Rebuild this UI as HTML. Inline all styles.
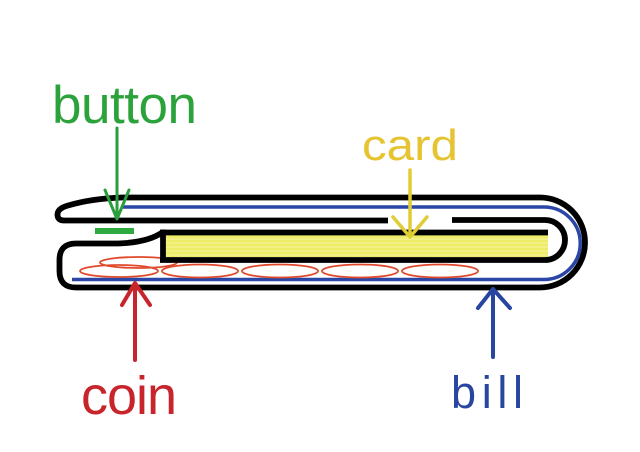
<!DOCTYPE html>
<html>
<head>
<meta charset="utf-8">
<style>
html,body{margin:0;padding:0;background:#fff;}
svg{display:block;}
text{font-family:"Liberation Sans",sans-serif;}
</style>
</head>
<body>
<svg width="640" height="452" viewBox="0 0 640 452" xmlns="http://www.w3.org/2000/svg">
  <defs>
    <pattern id="stripes" x="0" y="236" width="10" height="4" patternUnits="userSpaceOnUse">
      <rect width="10" height="4" fill="#eeec66"/>
      <rect y="2.5" width="10" height="1" fill="#f5f4a0"/>
    </pattern>
  </defs>
  <rect width="640" height="452" fill="#fff"/>

  <!-- card yellow -->
  <rect x="166" y="235" width="382" height="22" fill="url(#stripes)"/>

  <!-- blue bill line -->
  <path d="M123,207 H544 A36,36 0 0 1 544,279.5 H72" fill="none" stroke="#2a46a6" stroke-width="3.5"/>

  <!-- coins -->
  <g fill="none" stroke="#e04a2c" stroke-width="1.8">
    <ellipse cx="138.5" cy="262.5" rx="38.5" ry="5.5"/>
    <ellipse cx="119" cy="271" rx="39" ry="6"/>
    <ellipse cx="200" cy="271" rx="38" ry="6.5"/>
    <ellipse cx="280" cy="271" rx="38" ry="6.5"/>
    <ellipse cx="360" cy="271" rx="38" ry="6.5"/>
    <ellipse cx="440" cy="271" rx="38" ry="6.5"/>
  </g>

  <!-- black wallet outline -->
  <g fill="none" stroke="#000" stroke-width="5.8" stroke-linejoin="round">
    <path d="M388,220.5 H64 Q57.5,220.5 57.5,214.5 Q57.5,208.5 68,205.5 Q92,198.5 122,197.5 H540 A45,45 0 0 1 540,287.5 H76 Q59.5,287.5 59.5,271 V260 Q59.5,243.5 76,243.5 H118 Q148,242.5 163,232"/>
    <path d="M452,220 H545 A20,20 0 0 1 545,260 H160"/>
    <path d="M163,232.5 H548"/>
    <path d="M163,229.5 V262"/>
  </g>

  <!-- green button -->
  <rect x="95" y="228" width="39" height="6" fill="#2faa3e"/>

  <!-- green arrow -->
  <g fill="none" stroke="#2a9d3c" stroke-width="3" stroke-linecap="round" stroke-linejoin="round">
    <path d="M117,128 V218"/>
    <path d="M105,190 L117,219 L129,190"/>
  </g>
  <!-- yellow arrow -->
  <g fill="none" stroke="#e0cc33" stroke-width="3.5" stroke-linecap="round" stroke-linejoin="round">
    <path d="M410,170 V236"/>
    <path d="M393,217 L410,237 L427,217"/>
  </g>
  <!-- red arrow -->
  <g fill="none" stroke="#c8242c" stroke-width="4" stroke-linecap="round" stroke-linejoin="round">
    <path d="M135,284 V360"/>
    <path d="M122,305 L135,283 L150,305"/>
  </g>
  <!-- blue arrow -->
  <g fill="none" stroke="#2845a0" stroke-width="4" stroke-linecap="round" stroke-linejoin="round">
    <path d="M493,290 V357"/>
    <path d="M478,308 L493,289 L510,308"/>
  </g>

  <!-- labels -->
  <text x="52" y="123" font-size="53" fill="#2ba33a" textLength="145" lengthAdjust="spacing">button</text>
  <text x="362" y="160" font-size="44" fill="#e6c330" textLength="96" lengthAdjust="spacingAndGlyphs">card</text>
  <text x="81" y="414" font-size="54" fill="#c8242c" textLength="96" lengthAdjust="spacing">coin</text>
  <text x="451" y="408" font-size="45" fill="#2845a0" textLength="72" lengthAdjust="spacing">bill</text>
</svg>
</body>
</html>
